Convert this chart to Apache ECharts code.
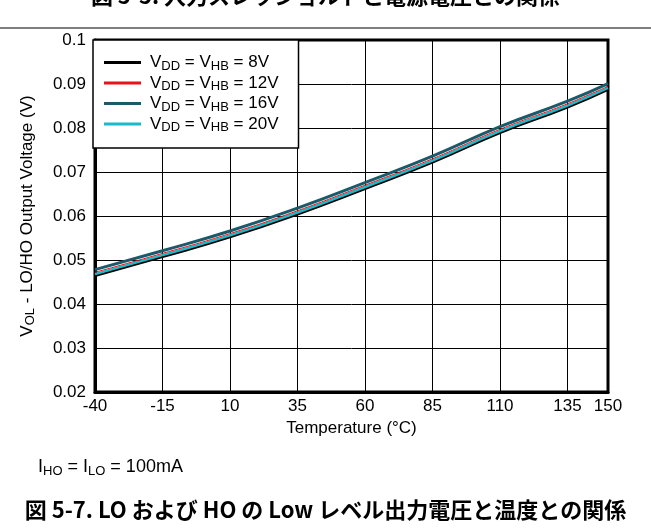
<!DOCTYPE html>
<html>
<head>
<meta charset="utf-8">
<script src="https://cdn.jsdelivr.net/npm/echarts@6/dist/echarts.min.js"></script>
<style>
html,body{margin:0;padding:0;background:#fff;}
#c{width:651px;height:529px;}
</style>
</head>
<body>
<div id="c"></div>
<script>
// Temperature (°C)
var temps = [-40, -15, 10, 35, 60, 85, 110, 135, 150];
// VOL (V) per supply voltage
var v8  = [0.0464, 0.0507, 0.0552, 0.0604, 0.0662, 0.0722, 0.0789, 0.0847, 0.0887];
var v12 = [0.0472, 0.0515, 0.0560, 0.0612, 0.0670, 0.0730, 0.0797, 0.0855, 0.0895];
var v16 = [0.0478, 0.0521, 0.0566, 0.0618, 0.0676, 0.0736, 0.0803, 0.0861, 0.0901];
var v20 = [0.0468, 0.0511, 0.0556, 0.0608, 0.0666, 0.0726, 0.0793, 0.0851, 0.0891];
var seriesNames = ['8V', '12V', '16V', '20V'];

function pairs(arr) { return temps.map(function (t, i) { return [t, arr[i]]; }); }

var font = 'Liberation Sans, Arial, sans-serif';
var chart = echarts.init(document.getElementById('c'), null, {renderer: 'canvas'});
var option = {
  animation: false,
  backgroundColor: '#fff',
  grid: {left: 95, right: 43, top: 40, bottom: 137, show: true, borderColor: '#000', borderWidth: 3, containLabel: false},
  xAxis: {
    type: 'value', min: -40, max: 150, interval: 25,
    name: 'Temperature (°C)', nameLocation: 'middle', nameGap: 24,
    nameTextStyle: {fontFamily: font, fontSize: 17, color: '#000'},
    axisLine: {show: true, onZero: false, lineStyle: {color: '#000', width: 3}},
    axisTick: {show: false},
    axisLabel: {fontFamily: font, fontSize: 17, color: '#000', margin: 6},
    splitLine: {show: true, lineStyle: {color: '#000', width: 1}}
  },
  yAxis: {
    type: 'value', min: 0.02, max: 0.1, interval: 0.01,
    name: 'V{s|OL} - LO/HO Output Voltage (V)', nameLocation: 'middle', nameGap: 58,
    nameTextStyle: {fontFamily: font, fontSize: 17, color: '#000',
      rich: {s: {fontFamily: font, fontSize: 13, color: '#000', padding: [7, 0, 0, 0]}}},
    axisLine: {show: true, onZero: false, lineStyle: {color: '#000', width: 3}},
    axisTick: {show: false},
    axisLabel: {fontFamily: font, fontSize: 17, color: '#000', margin: 9,
      formatter: function (v) { return String(+v.toFixed(2)); }},
    splitLine: {show: true, lineStyle: {color: '#000', width: 1}}
  },
  legend: {
    orient: 'vertical', left: 93, top: 40,
    data: seriesNames,
    backgroundColor: '#fff', borderColor: '#000', borderWidth: 1.5,
    padding: [14, 20, 14, 11],
    itemWidth: 37, itemHeight: 3, itemGap: 2,
    icon: 'rect',
    formatter: function (n) { return 'V{s|DD} = V{s|HB} = ' + n; },
    textStyle: {fontFamily: font, fontSize: 17, color: '#000', padding: [0, 0, 0, 4],
      rich: {s: {fontFamily: font, fontSize: 13, color: '#000', padding: [7, 0, 0, 0]}}}
  },
  series: [
    {name: '8V', type: 'line', data: pairs(v8), smooth: true, showSymbol: false, z: 2,
      lineStyle: {color: '#000000', width: 2.5}, itemStyle: {color: '#000000'}},
    {name: '20V', type: 'line', data: pairs(v20), smooth: true, showSymbol: false, z: 3,
      lineStyle: {color: '#19b9c9', width: 2.5}, itemStyle: {color: '#19b9c9'}},
    {name: '12V', type: 'line', data: pairs(v12), smooth: true, showSymbol: false, z: 4,
      lineStyle: {color: '#e8121b', width: 1}, itemStyle: {color: '#e8121b'}},
    {name: '16V', type: 'line', data: pairs(v16), smooth: true, showSymbol: false, z: 5,
      lineStyle: {color: '#1b5a6b', width: 3}, itemStyle: {color: '#1b5a6b'}}
  ],
  graphic: [
    {type: 'text', left: 'center', top: -15, z: 10,
      style: {text: '図 5-5. 入力スレッショルドと電源電圧との関係', font: 'bold 22px "Noto Sans CJK JP", sans-serif', fill: '#000'}},
    {type: 'line', shape: {x1: 0, y1: 28, x2: 651, y2: 28}, style: {stroke: '#555', lineWidth: 1.5}},
    {type: 'text', left: 38, top: 458,
      style: {rich: {n: {fontFamily: font, fontSize: 18, fill: '#000'}, s: {fontFamily: font, fontSize: 13, fill: '#000', padding: [8, 0, 0, 0]}},
        text: '{n|I}{s|HO}{n| = I}{s|LO}{n| = 100mA}'}},
    {type: 'text', left: 'center', top: 499,
      style: {text: '図 5-7. LO および HO の Low レベル出力電圧と温度との関係', font: 'bold 22px "Noto Sans CJK JP", sans-serif', fill: '#000'}}
  ]
};
chart.setOption(option);
</script>
</body>
</html>
